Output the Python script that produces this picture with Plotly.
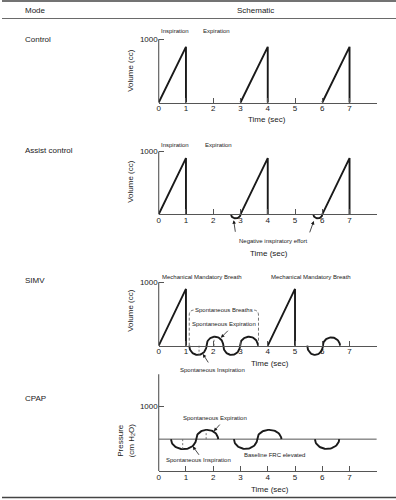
import numpy as np
import plotly.graph_objects as go

W, H = 396, 500

# ---------------- data ----------------
TIME_TICKS = [0, 1, 2, 3, 4, 5, 6, 7]
VOLUME_TICKS = [1000]
INSP_TIME = 1.0  # sec, duration of each mechanical inspiratory ramp

CONTROL_STARTS = [0, 3, 6]
CONTROL_PEAKS = [880, 880, 880]

ASSIST_STARTS = [0, 3, 6]
ASSIST_PEAKS = [895, 895, 895]
ASSIST_EFFORT_EDGES = [[2.65, 3.0], [5.67, 6.0]]
ASSIST_EFFORT_DEPTH = [-65, -65]

SIMV_STARTS = [0, 4]
SIMV_PEAKS = [895, 895]
SIMV_SPONT_EDGES_A = [1.12, 1.75, 2.37, 2.98, 3.64]
SIMV_SPONT_AMPS_A = [-145, 142, -145, 142]
SIMV_SPONT_EDGES_B = [5.45, 6.02, 6.65]
SIMV_SPONT_AMPS_B = [-145, 130]
SIMV_MARK_X = [1.48, 2.03]
SIMV_MARK_Y = [-145, 142]
SIMV_WINDOW = [1.12, 3.66]
SIMV_WINDOW_TOP = 563

CPAP_BASELINE = 490
CPAP_EDGES_A = [0.45, 1.37, 2.18]
CPAP_AMPS_A = [-154, 143]
CPAP_EDGES_B = [2.76, 3.61, 4.50]
CPAP_AMPS_B = [-150, 143]
CPAP_EDGES_C = [5.73, 6.62]
CPAP_AMPS_C = [-150]
CPAP_MARK_X = [0.88, 1.74]
CPAP_MARK_Y = [-154, 143]
CPAP_AXIS_TOP = 1490

# ---------------- geometry ----------------
FONT = "Liberation Sans, Arial, Helvetica, sans-serif"
INK = "#1a1a1a"
AXC = "#555555"
X_PX0, X_PXU, X_MAX = 157.5, 27.4, 8.0
PANELS = [
    dict(y0=102.5, s=0.0633, rng=[-150, 1080], ytop=1000),
    dict(y0=214.3, s=0.0628, rng=[-150, 1080], ytop=1000),
    dict(y0=345.7, s=0.0634, rng=[-200, 1080], ytop=1000),
    dict(y0=471.0, s=0.0650, rng=[-50, 1560], ytop=CPAP_AXIS_TOP),
]


def xr(n):
    return "x" if n == 1 else f"x{n}"


def yr(n):
    return "y" if n == 1 else f"y{n}"


def ramps(starts, peaks):
    xs, ys = [], []
    for s, p in zip(starts, peaks):
        xs += [s, s + INSP_TIME, s + INSP_TIME, None]
        ys += [0, p, 0, None]
    return xs, ys


ARC = np.linspace(0, np.pi, 33)


def wave(edges, amps, base=0.0):
    xs, ys = [], []
    for a, b, amp in zip(edges[:-1], edges[1:], amps):
        xs += list(a + (b - a) * (1 - np.cos(ARC)) / 2)
        ys += list(base + amp * np.sin(ARC))
    xs.append(None)
    ys.append(None)
    return xs, ys


fig = go.Figure()


def add_line(n, xy, width=1.9, color=INK, dash=None):
    fig.add_trace(go.Scatter(x=xy[0], y=xy[1], mode="lines", xaxis=xr(n), yaxis=yr(n),
                             line=dict(color=color, width=width, dash=dash),
                             hoverinfo="skip", showlegend=False))


# Control
add_line(1, ramps(CONTROL_STARTS, CONTROL_PEAKS))
# Assist control
add_line(2, ramps(ASSIST_STARTS, ASSIST_PEAKS))
ex, ey = [], []
for edges, d in zip(ASSIST_EFFORT_EDGES, ASSIST_EFFORT_DEPTH):
    wx, wy = wave(edges, [d])
    ex += wx
    ey += wy
add_line(2, (ex, ey))
# SIMV
add_line(3, ramps(SIMV_STARTS, SIMV_PEAKS))
add_line(3, wave(SIMV_SPONT_EDGES_A, SIMV_SPONT_AMPS_A))
add_line(3, wave(SIMV_SPONT_EDGES_B, SIMV_SPONT_AMPS_B))
mx, my = [], []
for x, y in zip(SIMV_MARK_X, SIMV_MARK_Y):
    mx += [x, x, None]
    my += [0, y, None]
add_line(3, (mx, my), width=0.9, color="#666", dash="2px,2px")
# CPAP
add_line(4, ([0, X_MAX], [CPAP_BASELINE, CPAP_BASELINE]), width=1.0, color=AXC)
add_line(4, wave(CPAP_EDGES_A, CPAP_AMPS_A, CPAP_BASELINE))
add_line(4, wave(CPAP_EDGES_B, CPAP_AMPS_B, CPAP_BASELINE))
add_line(4, wave(CPAP_EDGES_C, CPAP_AMPS_C, CPAP_BASELINE))
mx, my = [], []
for x, y in zip(CPAP_MARK_X, CPAP_MARK_Y):
    mx += [x, x, None]
    my += [CPAP_BASELINE, CPAP_BASELINE + y, None]
add_line(4, (mx, my), width=0.9, color="#666", dash="2px,2px")

layout = dict(
    width=W, height=H, margin=dict(l=0, r=0, t=0, b=0),
    paper_bgcolor="white", plot_bgcolor="rgba(0,0,0,0)",
    font=dict(family=FONT, size=8, color=INK), showlegend=False,
)
shapes = []
xdom = [(X_PX0) / W, (X_PX0 + X_MAX * X_PXU) / W]
for i, p in enumerate(PANELS):
    n = i + 1
    bot = p["y0"] - p["rng"][0] * p["s"]
    top = p["y0"] - p["rng"][1] * p["s"]
    layout["xaxis" if n == 1 else f"xaxis{n}"] = dict(
        domain=xdom, range=[0, X_MAX], anchor="free", position=1 - p["y0"] / H,
        tickvals=TIME_TICKS, ticks="inside", ticklen=5, tickcolor=AXC, tickwidth=1,
        showline=True, linecolor=AXC, linewidth=1, showgrid=False, zeroline=False,
        tickfont=dict(size=8, color=INK), fixedrange=True, ticklabelstandoff=-2,
    )
    layout["yaxis" if n == 1 else f"yaxis{n}"] = dict(
        domain=[1 - bot / H, 1 - top / H], range=p["rng"], anchor=xr(n),
        tickvals=VOLUME_TICKS, ticks="inside", ticklen=5, tickcolor=AXC, tickwidth=1,
        showline=False, showgrid=False, zeroline=False,
        tickfont=dict(size=8, color=INK), fixedrange=True,
    )
    shapes.append(dict(type="line", xref=f"{xr(n)} domain", yref=yr(n), x0=0, x1=0,
                       y0=0, y1=p["ytop"], line=dict(color=AXC, width=1.1)))

# SIMV spontaneous-breath window (dashed bracket)
L, R = SIMV_WINDOW
T = SIMV_WINDOW_TOP
c = 0.2
bend = T - 80
shapes.append(dict(type="path", xref="x3", yref="y3",
                   path=(f"M {L},0 L {L},{bend} Q {L},{T} {L + c},{T} "
                         f"M {R},0 L {R},{bend} Q {R},{T} {R - c},{T}"),
                   line=dict(color="#666", width=0.9, dash="3px,2px")))

# table rules
for yp, w in [(1.0, 1.6), (18.5, 0.8), (497.5, 1.6)]:
    shapes.append(dict(type="line", xref="paper", yref="paper", x0=0, x1=1,
                       y0=1 - yp / H, y1=1 - yp / H, line=dict(color="#444", width=w)))
layout["shapes"] = shapes


def txt(s, xp, yp, size=6, anchor="center", angle=0):
    return dict(text=s, x=xp / W, y=1 - yp / H, xref="paper", yref="paper",
                showarrow=False, font=dict(size=size, color=INK, family=FONT),
                xanchor=anchor, yanchor="middle", textangle=angle)


def arrow(n, x, y, ax, ay):
    return dict(x=x, y=y, xref=xr(n), yref=yr(n), ax=ax, ay=ay, text=" ",
                font=dict(size=2), showarrow=True, arrowhead=2, arrowsize=0.9,
                arrowwidth=0.8, arrowcolor=INK)


ann = [
    txt("Mode", 21, 10, 8, "left"), txt("Schematic", 255, 10, 8),
    txt("Control", 21, 39.5, 8, "left"), txt("Assist control", 21, 150.5, 8, "left"),
    txt("SIMV", 21, 280.5, 8, "left"), txt("CPAP", 21, 398.5, 8, "left"),
    # axis titles
    txt("Time (sec)", 266, 119, 8), txt("Time (sec)", 268.5, 253.5, 8),
    txt("Time (sec)", 269, 363.5, 8), txt("Time (sec)", 269, 489, 8),
    txt("Volume (cc)", 128.5, 70, 8, angle=-90),
    txt("Volume (cc)", 128.5, 181, 8, angle=-90),
    txt("Volume (cc)", 128.5, 310, 8, angle=-90),
    txt("Pressure<br>(cm H<sub>2</sub>O)", 125, 440, 8, angle=-90),
    # panel notes
    txt("Inspiration", 174, 31), txt("Expiration", 216, 31),
    txt("Inspiration", 174, 145), txt("Expiration", 217.5, 145),
    txt("Negative inspiratory effort", 273, 241),
    txt("Mechanical Mandatory Breath", 201.5, 276.5),
    txt("Mechanical Mandatory Breath", 310.5, 276.5),
    txt("Spontaneous Breaths", 223.3, 310),
    txt("Spontaneous Expiration", 222.7, 324.3),
    txt("Spontaneous Inspiration", 211.7, 370),
    txt("Spontaneous Expiration", 214, 417.7),
    txt("Spontaneous Inspiration", 197.5, 460),
    txt("Baseline FRC elevated", 273.7, 455),
    # arrows
    arrow(2, 2.75, -95, 2, 14), arrow(2, 5.69, -105, -5, 14),
    arrow(3, 2.28, 125, 9, -9), arrow(3, 1.62, -130, 7, 11),
    arrow(4, 2.02, 610, 8, -9), arrow(4, 1.25, 380, 8, 11),
]
layout["annotations"] = ann
fig.update_layout(**layout)
fig.write_html("out.html", config=dict(displayModeBar=False),
               post_script="document.body.style.margin='0';document.body.style.padding='0';")
